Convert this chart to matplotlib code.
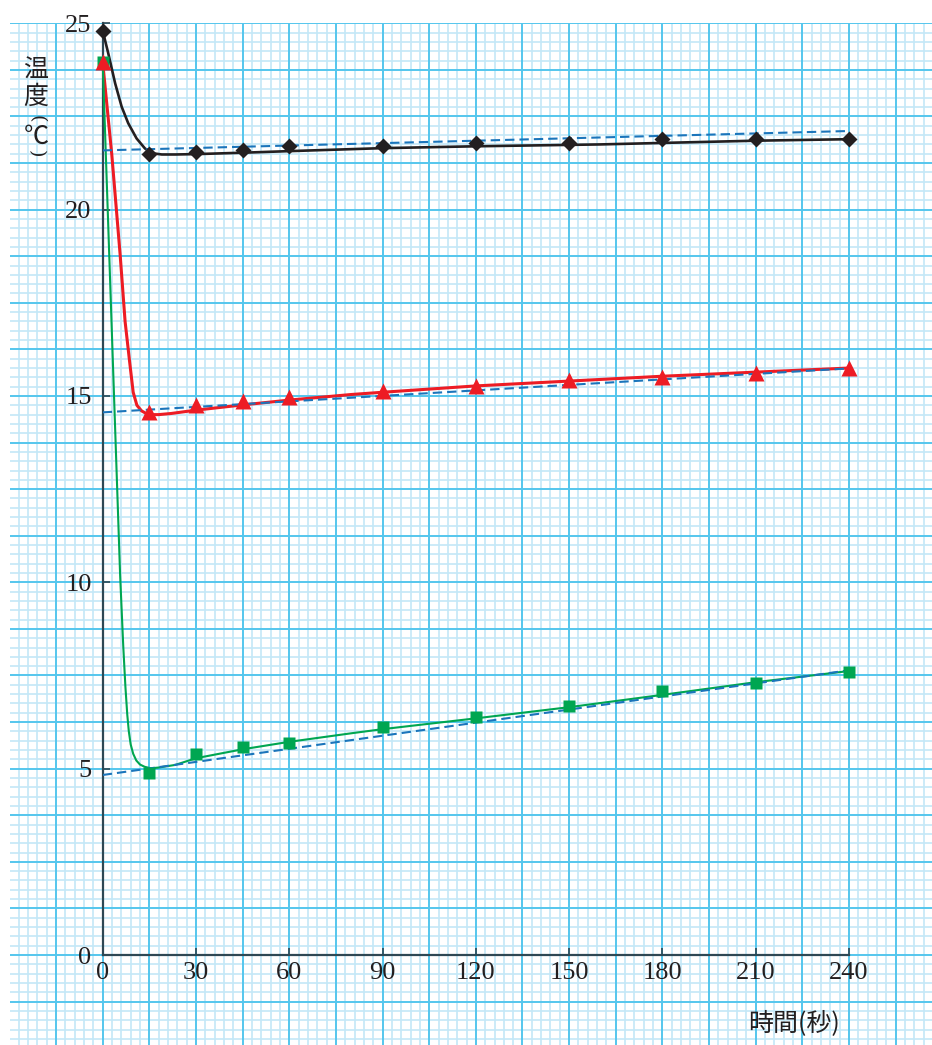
import numpy as np
import matplotlib
matplotlib.use("Agg")
import matplotlib.pyplot as plt

# measured temperatures (deg C) at each sample time (s)
times = [0, 15, 30, 45, 60, 90, 120, 150, 180, 210, 240]
black_temp = [24.8, 21.5, 21.55, 21.6, 21.7, 21.7, 21.8, 21.8, 21.9, 21.9, 21.9]
red_temp = [23.95, 14.58, 14.75, 14.86, 14.96, 15.14, 15.26, 15.44, 15.52, 15.63, 15.75]
green_temp = [23.95, 4.89, 5.39, 5.59, 5.69, 6.12, 6.39, 6.68, 7.08, 7.3, 7.59]

# hand drawn smooth curves
black_curve_t = [0, 1.8, 4.0, 6.1, 8.2, 10.9, 13.6, 16.3, 19, 23.3, 30, 46, 60, 90, 120, 160, 210, 240]
black_curve_T = [24.8, 24.19, 23.39, 22.76, 22.32, 21.91, 21.64, 21.51, 21.48, 21.48, 21.49, 21.53,
                 21.57, 21.65, 21.7, 21.75, 21.85, 21.89]
red_curve_t = [0, 2.9, 5.6, 7.2, 8.6, 9.8, 11.0, 12.5, 14.0, 15.5, 18, 22, 30, 45, 60, 80, 90, 120, 150,
               180, 210, 240]
red_curve_T = [23.95, 21.5, 18.8, 17.0, 15.96, 15.1, 14.75, 14.6, 14.53, 14.5, 14.5, 14.53, 14.62, 14.76,
               14.89, 15.04, 15.1, 15.27, 15.4, 15.53, 15.64, 15.75]
green_curve_t = [0, 3.4, 5.6, 6.6, 7.3, 7.9, 8.4, 9.0, 9.8, 10.8, 12.0, 13.5, 15.5, 18, 23.3, 30, 45, 60,
                 80, 90, 120, 150, 180, 210, 240]
green_curve_T = [23.95, 15.6, 10.2, 8.3, 7.2, 6.45, 6.0, 5.65, 5.4, 5.22, 5.11, 5.05, 5.01, 5.03, 5.1, 5.28,
                 5.52, 5.72, 5.95, 6.06, 6.35, 6.65, 6.98, 7.32, 7.62]

# blue dashed trend lines (end points)
fit_t = [0, 240]
black_fit = [21.59, 22.11]
red_fit = [14.56, 15.74]
green_fit = [4.83, 7.64]

x_ticks = [0, 30, 60, 90, 120, 150, 180, 210, 240]
y_ticks = [0, 5, 10, 15, 20, 25]

W, H = 932, 1045
fig = plt.figure(figsize=(W / 100, H / 100), dpi=100)
fig.patch.set_facecolor("white")

# pixel geometry of the plotting area
x0_px, x240_px = 102.7, 849.0
y0_px, y25_px = 955.0, 23.3
px_per_s = (x240_px - x0_px) / 240
px_per_deg = (y0_px - y25_px) / 25

# graph paper background
left_px = 10
bg = fig.add_axes([left_px / W, 0, (W - left_px) / W, (H - y25_px) / H])
bg_xmin = -(x0_px - left_px) / px_per_s
bg_xmax = bg_xmin + (W - left_px) / px_per_s
bg_ymin = 25 - (H - y25_px) / px_per_deg
bg.set_xlim(bg_xmin, bg_xmax)
bg.set_ylim(bg_ymin, 25)
minor_c, major_c = "#c4e8f7", "#55c6ed"
bg.vlines(np.arange(-30, 270, 3), bg_ymin, 25, color=minor_c, lw=1.2, zorder=1)
bg.hlines(np.arange(-2.5, 25.01, 0.25), bg_xmin, bg_xmax, color=minor_c, lw=1.2, zorder=1)
bg.vlines(np.arange(-30, 270, 15), bg_ymin, 25, color=major_c, lw=1.4, zorder=2)
bg.hlines(np.arange(-2.5, 25.01, 1.25), bg_xmin, bg_xmax, color=major_c, lw=1.4, zorder=2)
bg.axis("off")

# data axes
ax = fig.add_axes([x0_px / W, (H - y0_px) / H, (x240_px - x0_px) / W, (y0_px - y25_px) / H])
ax.patch.set_alpha(0)
ax.set_xlim(0, 240)
ax.set_ylim(0, 25)
for s in ["top", "right"]:
    ax.spines[s].set_visible(False)
for s in ["left", "bottom"]:
    ax.spines[s].set_color("#2e4854")
    ax.spines[s].set_linewidth(1.6)
ax.set_xticks(x_ticks)
ax.set_yticks(y_ticks)
ax.tick_params(direction="in", length=5, width=1.2, color="#2e4854", labelsize=19)
ax.tick_params(axis="x", pad=5)
ax.tick_params(axis="y", pad=8)
for lab in ax.get_xticklabels() + ax.get_yticklabels():
    lab.set_fontfamily("Liberation Serif")
    lab.set_color("#231f20")

black_c, red_c, green_c, fit_c = "#231f20", "#ed1c24", "#00a651", "#1b75bb"

ax.plot(black_curve_t, black_curve_T, color=black_c, lw=1.9, zorder=3, clip_on=False)
ax.plot(red_curve_t, red_curve_T, color=red_c, lw=2.2, zorder=3, clip_on=False)
ax.plot(green_curve_t, green_curve_T, color=green_c, lw=1.5, zorder=3, clip_on=False)

for fit in [black_fit, red_fit, green_fit]:
    ax.plot(fit_t, fit, color=fit_c, lw=1.5, dashes=(4.5, 2.4), zorder=4)

ax.plot(times, green_temp, "s", color=green_c, ms=8.8, mec="none", zorder=5, clip_on=False)
ax.plot(times, red_temp, "^", color=red_c, ms=11, mec="none", zorder=6, clip_on=False)
ax.plot(times, black_temp, "D", color=black_c, ms=8.5, mec="none", zorder=7, clip_on=False)

# axis titles (vertical y title, parentheses turned sideways)
jp = ["Noto Sans CJK JP", "DejaVu Sans"]
for ch, ypx in [("温", 71), ("度", 96.5), ("℃", 137)]:
    fig.text(36 / W, 1 - ypx / H, ch, family=jp, fontsize=18, ha="center", va="center",
             color="#231f20")
for ch, ypx in [("(", 119), (")", 154)]:
    fig.text(36 / W, 1 - ypx / H, ch, family="DejaVu Serif", fontsize=14, ha="center",
             va="center", rotation=270, color="#231f20")
fig.text(794 / W, 1 - 1023 / H, "時間(秒)", family=jp, fontsize=18, ha="center", va="center",
         color="#231f20")

fig.savefig("out.png", dpi=100, facecolor="white")
